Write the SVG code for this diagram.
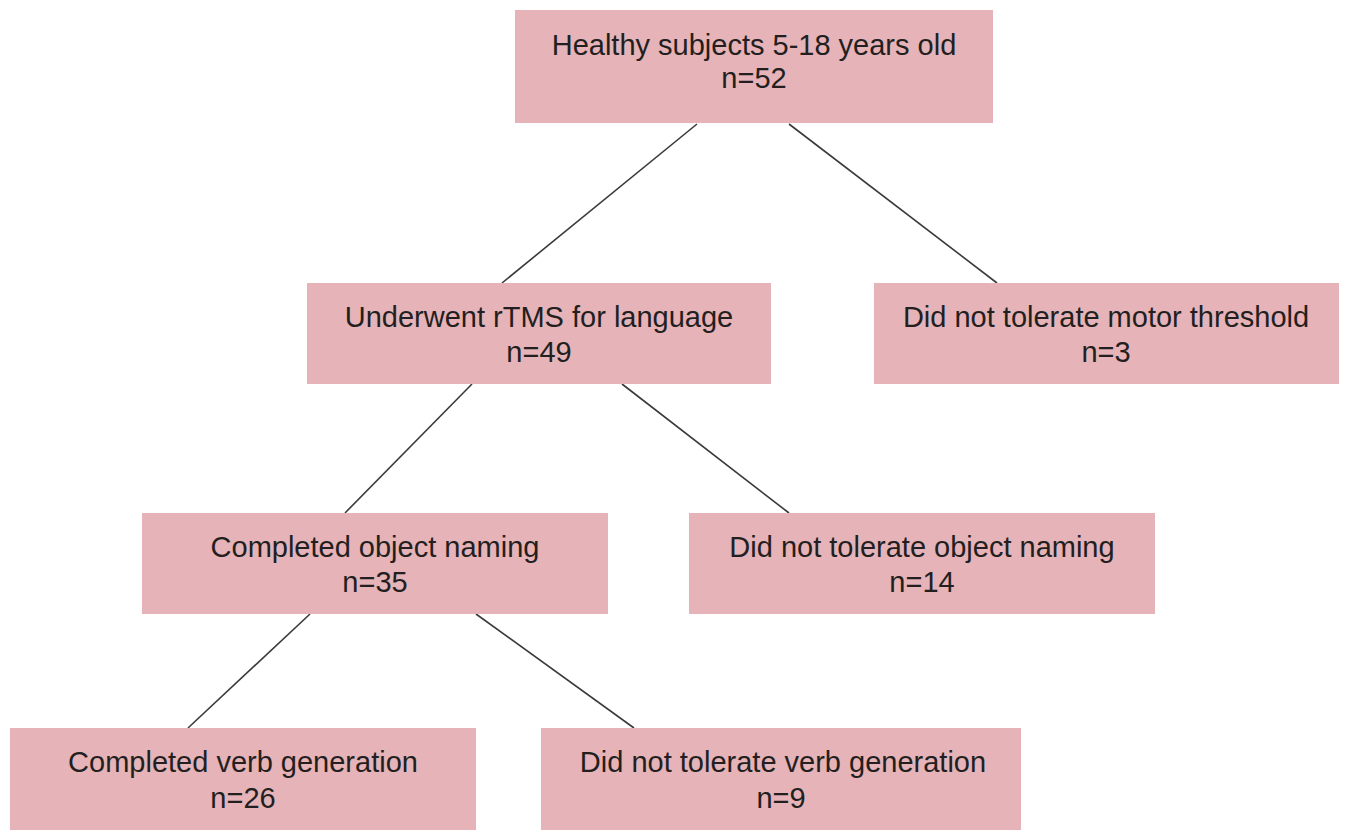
<svg xmlns="http://www.w3.org/2000/svg" width="1346" height="832" viewBox="0 0 1346 832">
<style>
.box{fill:#e5b3b8;}
.t{font-family:"Liberation Sans",Arial,sans-serif;font-size:29px;fill:#231f20;text-anchor:middle;}
.c{stroke:#3a3a3a;stroke-width:1.6;fill:none;}
</style>
<rect width="1346" height="832" fill="#ffffff"/>
<g id="connectors">
<line class="c" x1="697" y1="124" x2="502" y2="283"/>
<line class="c" x1="789" y1="124" x2="997" y2="283"/>
<line class="c" x1="472" y1="384" x2="345" y2="513"/>
<line class="c" x1="622" y1="384" x2="789" y2="513"/>
<line class="c" x1="310" y1="614" x2="188" y2="728"/>
<line class="c" x1="476" y1="614" x2="634" y2="728"/>
</g>
<g id="n1">
<rect class="box" x="515" y="10" width="478" height="113"/>
<text class="t" x="754" y="55">Healthy subjects 5-18 years old</text>
<text class="t" x="754" y="88">n=52</text>
</g>
<g id="n2">
<rect class="box" x="307" y="283" width="464" height="101"/>
<text class="t" x="539" y="327">Underwent rTMS for language</text>
<text class="t" x="539" y="362">n=49</text>
</g>
<g id="n3">
<rect class="box" x="874" y="283" width="465" height="101"/>
<text class="t" x="1106" y="327">Did not tolerate motor threshold</text>
<text class="t" x="1106" y="362">n=3</text>
</g>
<g id="n4">
<rect class="box" x="142" y="513" width="466" height="101"/>
<text class="t" x="375" y="557">Completed object naming</text>
<text class="t" x="375" y="592">n=35</text>
</g>
<g id="n5">
<rect class="box" x="689" y="513" width="466" height="101"/>
<text class="t" x="922" y="557">Did not tolerate object naming</text>
<text class="t" x="922" y="592">n=14</text>
</g>
<g id="n6">
<rect class="box" x="10" y="728" width="466" height="102"/>
<text class="t" x="243" y="772">Completed verb generation</text>
<text class="t" x="243" y="808">n=26</text>
</g>
<g id="n7">
<rect class="box" x="541" y="728" width="480" height="102"/>
<text class="t" x="783" y="772">Did not tolerate verb generation</text>
<text class="t" x="781" y="808">n=9</text>
</g>
</svg>
